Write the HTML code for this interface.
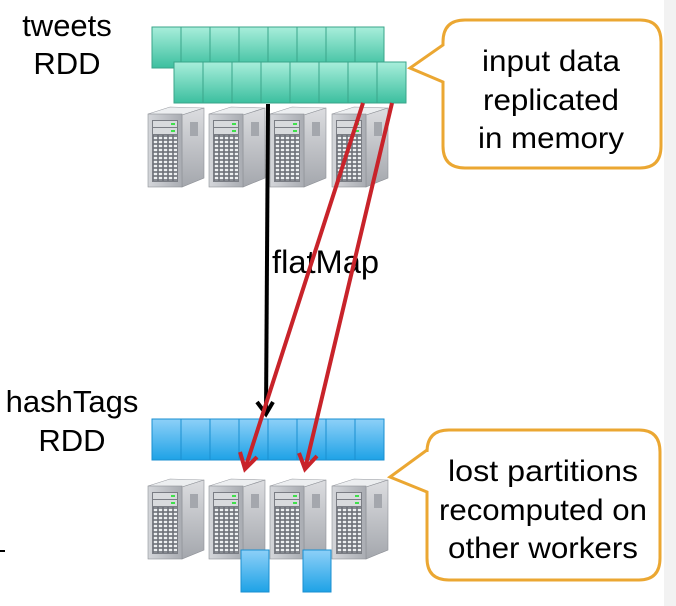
<!DOCTYPE html>
<html><head><style>
html,body{margin:0;padding:0;background:#fff;}
svg{display:block;}
text{font-family:"Liberation Sans",sans-serif;fill:#000;}
</style></head><body>
<svg width="676" height="606" viewBox="0 0 676 606" xmlns="http://www.w3.org/2000/svg">
<defs>
<linearGradient id="teal" x1="0" y1="0" x2="0" y2="1"><stop offset="0" stop-color="#a8eedb"/><stop offset="1" stop-color="#3cbf9f"/></linearGradient>
<linearGradient id="blue" x1="0" y1="0" x2="0" y2="1"><stop offset="0" stop-color="#8dd0f8"/><stop offset="1" stop-color="#1ea2e6"/></linearGradient>
<linearGradient id="front" x1="0" y1="0" x2="1" y2="0"><stop offset="0" stop-color="#d4d6da"/><stop offset="1" stop-color="#a9acb2"/></linearGradient>
<linearGradient id="side" x1="0" y1="0" x2="0" y2="1"><stop offset="0" stop-color="#dcdde0"/><stop offset="1" stop-color="#a4a7ad"/></linearGradient>
<pattern id="grid" width="5" height="4" patternUnits="userSpaceOnUse"><rect width="5" height="4" fill="#6d7078"/><rect x="0.8" y="0.8" width="3.4" height="2.4" fill="#eef0f2"/></pattern>
<g id="srv">
 <polygon points="0,10 22,3 56,4 34,11" fill="#eceef0" stroke="#9a9da3" stroke-width="0.6"/>
 <polygon points="34,11 56,4 56,74 34,83" fill="url(#side)" stroke="#8e9197" stroke-width="0.6"/>
 <rect x="0" y="10" width="34" height="73" fill="url(#front)" stroke="#8e9197" stroke-width="0.6"/>
 <rect x="4" y="16" width="26" height="62" fill="#7a7d84"/>
 <rect x="5" y="17" width="24" height="6" fill="#d8dadd"/>
 <rect x="5" y="24" width="24" height="6" fill="#d8dadd"/>
 <rect x="23" y="19" width="4" height="2" fill="#3ee04a"/>
 <rect x="23" y="26" width="4" height="2" fill="#3ee04a"/>
 <rect x="5" y="31" width="24" height="46" fill="url(#grid)"/>
 <rect x="42" y="18" width="8" height="14" fill="#a4a7ad"/>
</g>
<g id="cellT"><rect width="29" height="41" fill="url(#teal)" stroke="#3aa58a" stroke-width="1"/></g>
<g id="cellB"><rect width="29" height="41" fill="url(#blue)" stroke="#1a8fd0" stroke-width="1"/></g>
</defs>
<rect x="664" y="0" width="12" height="606" fill="#f2f2f2"/>

<text x="67" y="36" font-size="31" text-anchor="middle">tweets</text>
<text x="67" y="74" font-size="31" text-anchor="middle">RDD</text>
<text x="72" y="412" font-size="31" text-anchor="middle">hashTags</text>
<text x="72" y="451" font-size="31" text-anchor="middle">RDD</text>
<rect x="0" y="550" width="5" height="2" fill="#000"/>

<g>
<use href="#cellT" x="152" y="27"/><use href="#cellT" x="181" y="27"/><use href="#cellT" x="210" y="27"/><use href="#cellT" x="239" y="27"/><use href="#cellT" x="268" y="27"/><use href="#cellT" x="297" y="27"/><use href="#cellT" x="326" y="27"/><use href="#cellT" x="355" y="27"/>
<use href="#cellT" x="174" y="62"/><use href="#cellT" x="203" y="62"/><use href="#cellT" x="232" y="62"/><use href="#cellT" x="261" y="62"/><use href="#cellT" x="290" y="62"/><use href="#cellT" x="319" y="62"/><use href="#cellT" x="348" y="62"/><use href="#cellT" x="377" y="62"/>
</g>
<use href="#srv" x="148" y="104"/><use href="#srv" x="209" y="104"/><use href="#srv" x="270" y="104"/><use href="#srv" x="332" y="104"/>

<use href="#cellB" x="152" y="419"/><use href="#cellB" x="181" y="419"/><use href="#cellB" x="210" y="419"/><use href="#cellB" x="239" y="419"/><use href="#cellB" x="268" y="419"/><use href="#cellB" x="297" y="419"/><use href="#cellB" x="326" y="419"/><use href="#cellB" x="355" y="419"/>
<use href="#srv" x="148" y="476"/><use href="#srv" x="209" y="476"/><use href="#srv" x="270" y="476"/><use href="#srv" x="332" y="476"/>
<rect x="241" y="550" width="28" height="42" fill="url(#blue)" stroke="#1a8fd0"/>
<rect x="303" y="550" width="28" height="42" fill="url(#blue)" stroke="#1a8fd0"/>

<text x="272" y="273" font-size="32" textLength="107" lengthAdjust="spacingAndGlyphs">flatMap</text>

<line x1="268" y1="104" x2="266" y2="414" stroke="#000" stroke-width="4"/>
<polyline points="257,402 266,414 273,402" fill="none" stroke="#000" stroke-width="4"/>
<line x1="363" y1="103" x2="245" y2="469" stroke="#c8232a" stroke-width="4"/>
<polyline points="240,452 245,469 257,457" fill="none" stroke="#c8232a" stroke-width="4"/>
<line x1="392" y1="103" x2="305" y2="469" stroke="#c8232a" stroke-width="4"/>
<polyline points="299,453 305,469 317,456" fill="none" stroke="#c8232a" stroke-width="4"/>

<path d="M465,20 H640 Q661,20 661,42 V146 Q661,168 640,168 H465 Q443,168 443,146 V82 L410,68 L443,45 V42 Q443,20 465,20 Z" fill="#fff" stroke="#eba732" stroke-width="3"/>
<text x="551" y="71" font-size="30" text-anchor="middle" textLength="138" lengthAdjust="spacingAndGlyphs">input data</text>
<text x="551" y="110" font-size="30" text-anchor="middle" textLength="136" lengthAdjust="spacingAndGlyphs">replicated</text>
<text x="551" y="148" font-size="30" text-anchor="middle" textLength="146" lengthAdjust="spacingAndGlyphs">in memory</text>

<path d="M449,430 H639 Q660,430 660,452 V558 Q660,580 639,580 H449 Q427,580 427,558 V492 L390,477 L427,450 V452 Q427,430 449,430 Z" fill="#fff" stroke="#eba732" stroke-width="3"/>
<text x="543" y="481" font-size="30" text-anchor="middle" textLength="190" lengthAdjust="spacingAndGlyphs">lost partitions</text>
<text x="543" y="520" font-size="30" text-anchor="middle" textLength="208" lengthAdjust="spacingAndGlyphs">recomputed on</text>
<text x="543" y="558" font-size="30" text-anchor="middle" textLength="190" lengthAdjust="spacingAndGlyphs">other workers</text>
</svg>
</body></html>
